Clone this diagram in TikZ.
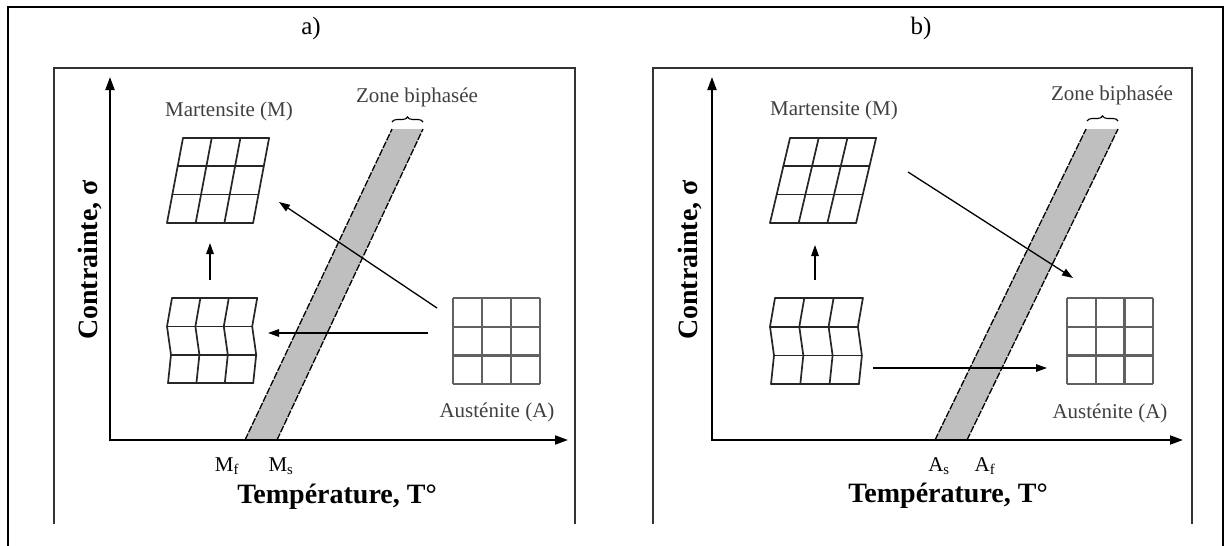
\documentclass[tikz,border=0pt]{standalone}
\usepackage{fontspec}
\setmainfont{Liberation Serif}
\usetikzlibrary{arrows.meta,decorations.pathreplacing}
\newcommand{\shgrid}[6]{% xt, yt, w, h, shear, name
  \foreach \i in {0,1,2,3}{
    \draw[gridline] ({#1-#5*\i/3},{#2+#4*\i}) -- ({#1-#5*\i/3+3*#3},{#2+#4*\i});
    \draw[gridline] ({#1+#3*\i},{#2}) -- ({#1+#3*\i-#5},{#2+3*#4});
  }
  \coordinate (#6) at ({#1+1.5*#3-#5/2},{#2+1.5*#4});
}
\newcommand{\twgrid}[6]{% xt, yt, w, h, d, name
  \foreach \i/\o in {0/0,1/-1,2/-0.2,3/-0.8}{
    \draw[gridline] ({#1+\o*#5},{#2+#4*\i}) -- ({#1+\o*#5+3*#3},{#2+#4*\i});
  }
  \foreach \j in {0,1,2,3}{
    \draw[gridline] ({#1+#3*\j},{#2}) -- ({#1+#3*\j-#5},{#2+#4}) -- ({#1+#3*\j-0.2*#5},{#2+2*#4}) -- ({#1+#3*\j-0.8*#5},{#2+3*#4});
  }
  \coordinate (#6) at ({#1+1.5*#3},{#2+1.5*#4});
}
\newcommand{\sqgrid}[5]{% x, y, w, h, name
  \foreach \i in {0,1,2,3}{
    \draw[augrid] ({#1},{#2+#4*\i}) -- ({#1+3*#3},{#2+#4*\i});
    \draw[augrid] ({#1+#3*\i},{#2}) -- ({#1+#3*\i},{#2+3*#4});
  }
  \coordinate (#5) at ({#1+1.5*#3},{#2+1.5*#4});
}
\begin{document}
\begin{tikzpicture}[x=1pt,y=-1pt,
  gridline/.style={line width=1.7pt, black!85, line cap=round, line join=round},
  augrid/.style={line width=2.4pt, black!62},
  smalltext/.style={font=\fontsize{21}{24}\selectfont, text=black!75, inner sep=0pt},
  axislabel/.style={font=\fontsize{28}{32}\selectfont\bfseries, inner sep=0pt},
  letterlabel/.style={font=\fontsize{25}{28}\selectfont, inner sep=0pt},
  ticklabel/.style={font=\fontsize{21}{24}\selectfont, inner sep=0pt},
  axis/.style={line width=2pt, -{Triangle[length=13pt,width=9pt]}},
  trarrow/.style={line width=1.3pt, -{Triangle[length=11pt,width=7.5pt]}},
  band/.style={fill=black!25, draw=none},
  bandedge/.style={line width=1.3pt, dash pattern=on 7pt off 1.5pt},
  framebox/.style={line width=1.8pt, black!80},
  zonebrace/.style={decorate, decoration={brace, amplitude=5pt}, line width=1.1pt}
]
\useasboundingbox (0,0) rectangle (1226,546);
\fill[white] (0,0) rectangle (1226,546);
% outer frame
\draw[line width=2.6pt] (8,546) -- (8,7) -- (1223,7) -- (1223,546);
\node[letterlabel] (la) at (311,28) {a)};
\node[letterlabel] (lb) at (921,28) {b)};
% panel frames
\draw[framebox] (54,524) -- (54,68) -- (575,68) -- (575,524);
\draw[framebox] (653,524) -- (653,68) -- (1192,68) -- (1192,524);

%%%%%%%%%%%% PANEL A
% band
\coordinate (abl) at (245,440); \coordinate (abr) at (277,440);
\coordinate (atl) at (392,129); \coordinate (atr) at (423,129);
\fill[band] (abl) -- (atl) -- (atr) -- (abr) -- cycle;
\draw[bandedge] (abl) -- (atl);
\draw[bandedge] (abr) -- (atr);
\draw[zonebrace] (392,122) -- (423,122);
% axes
\coordinate (aO) at (110,440);
\coordinate (aY) at (110,77);
\coordinate (aX) at (568,440);
\draw[axis] ([yshift=-1pt]aO) -- (aY);
\draw[axis] ([xshift=-1pt]aO) -- (aX);
% grids
\shgrid{183}{138}{28.7}{28.3}{16}{aM}
\twgrid{172}{298}{28.4}{28.4}{5}{aT}
\sqgrid{453}{298}{29}{28.7}{aA}
% arrows
\coordinate (aus) at (210,280); \coordinate (aue) at (210,243);
\coordinate (ads) at (437,308); \coordinate (ade) at (279,202);
\coordinate (ahs) at (428,333); \coordinate (ahe) at (268,333);
\draw[trarrow] (aus) -- (aue);
\draw[trarrow] (ads) -- (ade);
\draw[trarrow] (ahs) -- (ahe);
% labels
\node[smalltext] (amart) at (229,111) {Martensite (M)};
\node[smalltext] (azone) at (417,97) {Zone biphasée};
\node[smalltext] (aaus) at (497,412) {Austénite (A)};
\node[ticklabel] (amf) at (227,466) {M\textsubscript{f}};
\node[ticklabel] (ams) at (281,466) {M\textsubscript{s}};
\node[axislabel] (atemp) at (337,497) {Température, T°};
\node[axislabel, rotate=90] (acontr) at (90,260) {Contrainte, σ};

%%%%%%%%%%%% PANEL B
\coordinate (bbl) at (935,440); \coordinate (bbr) at (967,440);
\coordinate (btl) at (1086,129); \coordinate (btr) at (1118,129);
\fill[band] (bbl) -- (btl) -- (btr) -- (bbr) -- cycle;
\draw[bandedge] (bbl) -- (btl);
\draw[bandedge] (bbr) -- (btr);
\draw[zonebrace] (1087,121) -- (1118,121);
\coordinate (bO) at (712,440);
\coordinate (bY) at (712,77);
\coordinate (bX) at (1183,440);
\draw[axis] ([yshift=-1pt]bO) -- (bY);
\draw[axis] ([xshift=-1pt]bO) -- (bX);
\shgrid{790}{138}{28.7}{28.3}{20}{bM}
\twgrid{775}{298}{29.3}{28.7}{5}{bT}
\sqgrid{1067}{298}{28.7}{28.7}{bA}
\coordinate (bus) at (815,280); \coordinate (bue) at (815,245);
\coordinate (bds) at (908,172); \coordinate (bde) at (1073,278);
\coordinate (bhs) at (873,368); \coordinate (bhe) at (1047,368);
\draw[trarrow] (bus) -- (bue);
\draw[trarrow] (bds) -- (bde);
\draw[trarrow] (bhs) -- (bhe);
\node[smalltext] (bmart) at (834,110) {Martensite (M)};
\node[smalltext] (bzone) at (1112,95) {Zone biphasée};
\node[smalltext] (baus) at (1110,413) {Austénite (A)};
\node[ticklabel] (bas) at (939,466) {A\textsubscript{s}};
\node[ticklabel] (baf) at (985,466) {A\textsubscript{f}};
\node[axislabel] (btemp) at (948,496) {Température, T°};
\node[axislabel, rotate=90] (bcontr) at (690,260) {Contrainte, σ};
\end{tikzpicture}
\end{document}
